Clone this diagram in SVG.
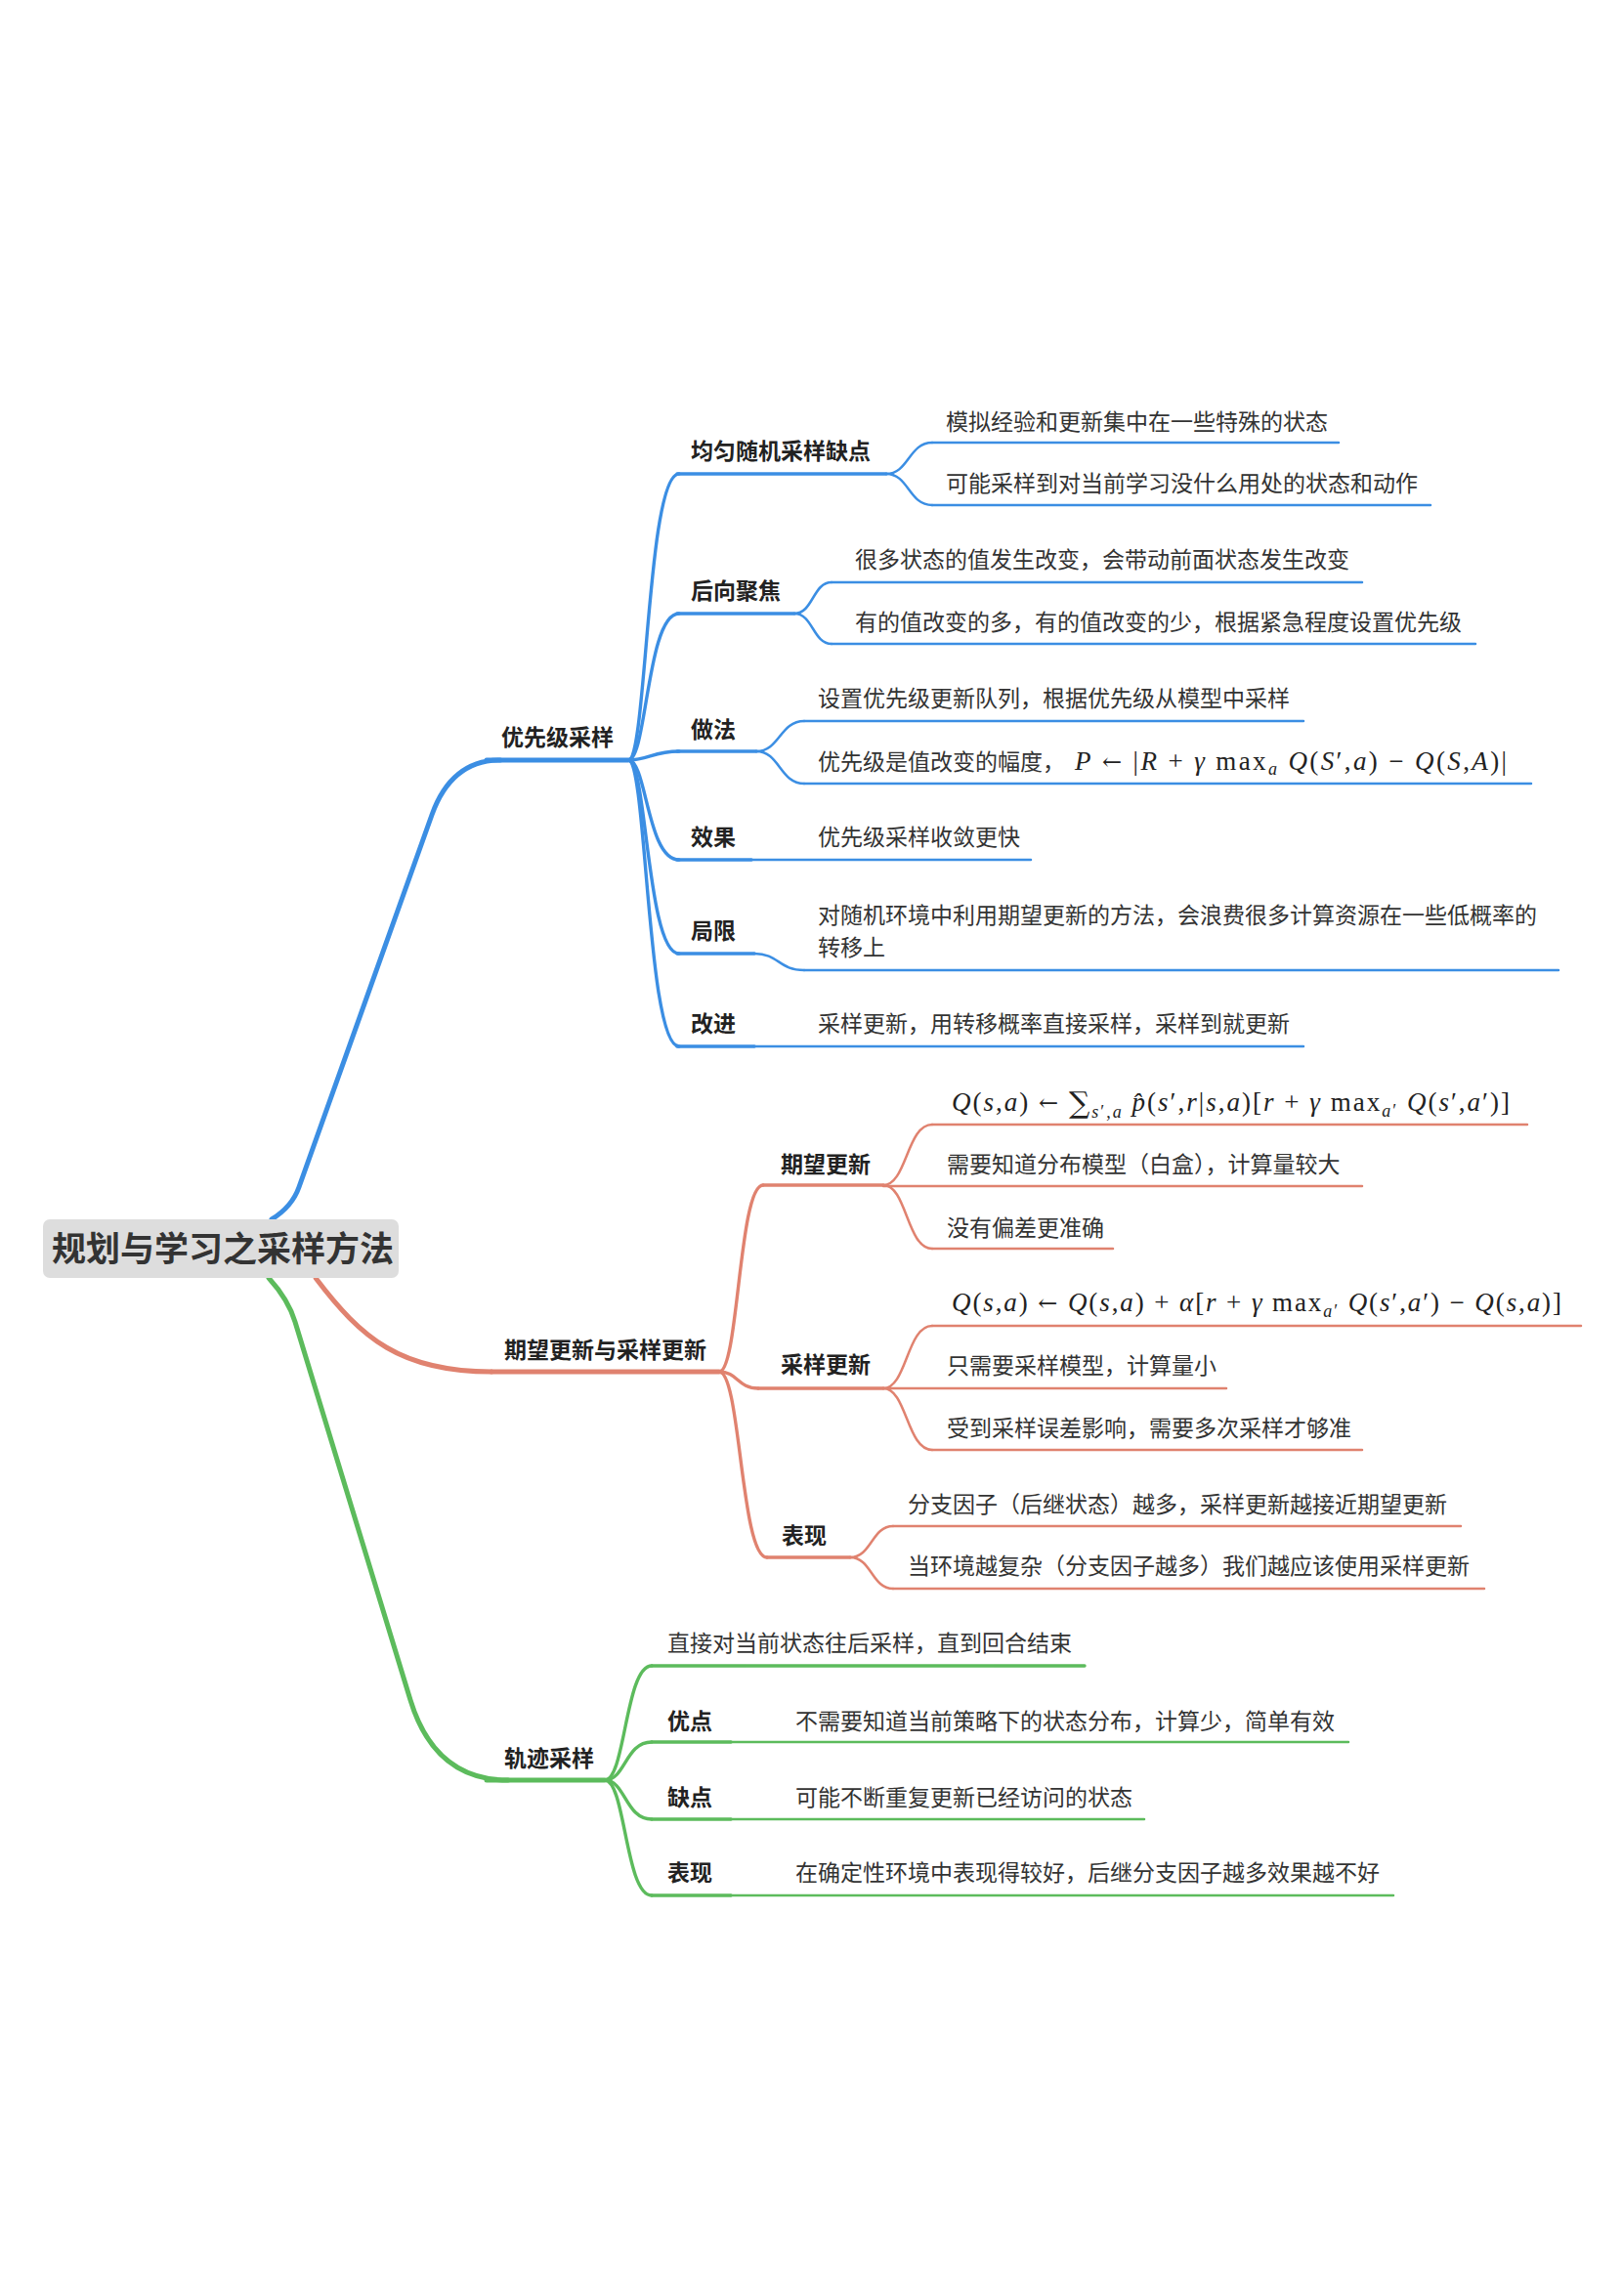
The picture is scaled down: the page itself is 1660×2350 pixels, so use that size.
<svg xmlns="http://www.w3.org/2000/svg" width="1660" height="2350" viewBox="0 0 1660 2350">
<style>
path, line { fill: none; stroke-linecap: round; }
.b { stroke: #3b8ee3; }
.r { stroke: #e0826f; }
.g { stroke: #5cbb5c; }
.w1 { stroke-width: 5; }
.w2 { stroke-width: 3.4; }
.w3 { stroke-width: 2.5; }
.root { font-family: "Noto Sans CJK SC", sans-serif; font-size: 35px; font-weight: bold; fill: #333; }
.lbl { font-family: "Noto Sans CJK SC", sans-serif; font-size: 23px; font-weight: bold; fill: #222; }
.leaf { font-family: "Noto Sans CJK SC", sans-serif; font-size: 23px; fill: #333; }
.m { font-family: "Liberation Serif", "DejaVu Serif", serif; font-size: 27px; fill: #222; }
.i { font-style: italic; }
.s { font-size: 18px; }
.op { font-family: "DejaVu Serif", serif; font-size: 24px; }
.sum { font-family: "DejaVu Serif", serif; font-size: 30px; }
</style>
<rect width="1660" height="2350" fill="#ffffff"/>
<g id="connectors">
  <!-- main branches -->
  <path class="b w1" d="M 278 1248 Q 299 1235 306 1215 L 442 834 Q 462 778 512 778"/>
  <path class="r w1" d="M 323 1308 C 370 1370 410 1404 503 1404"/>
  <path class="g w1" d="M 275 1308 Q 295 1330 302 1353 L 420 1740 Q 445 1822 520 1822"/>
  <!-- blue subs -->
  <path class="b w2" d="M 643 778 C 662 778 662 485 695 485"/>
  <path class="b w2" d="M 643 778 C 662 778 662 628 695 628"/>
  <path class="b w2" d="M 643 778 C 664 778 668 769 695 769"/>
  <path class="b w2" d="M 643 778 C 662 778 662 880 695 880"/>
  <path class="b w2" d="M 643 778 C 662 778 662 976 695 976"/>
  <path class="b w2" d="M 643 778 C 662 778 662 1071 695 1071"/>
  <!-- blue leaves -->
  <path class="b w3" d="M 907 485 C 930 485 930 453 954 453"/>
  <path class="b w3" d="M 907 485 C 930 485 930 517 954 517"/>
  <path class="b w3" d="M 813 628 C 832 628 832 596 851 596"/>
  <path class="b w3" d="M 813 628 C 832 628 832 659 851 659"/>
  <path class="b w3" d="M 774 769 C 798 769 798 738 823 738"/>
  <path class="b w3" d="M 774 769 C 798 769 798 802 823 802"/>
  <path class="b w3" d="M 772 976 C 797 976 797 993 823 993"/>
  <!-- red subs -->
  <path class="r w2" d="M 736 1404 C 756 1404 756 1213 781 1213"/>
  <path class="r w2" d="M 736 1404 C 755 1404 755 1421 776 1421"/>
  <path class="r w2" d="M 736 1404 C 758 1404 758 1594 785 1594"/>
  <!-- red leaves -->
  <path class="r w3" d="M 904 1213 C 928 1213 928 1151 954 1151"/>
  <path class="r w3" d="M 904 1213 C 928 1213 928 1278 954 1278"/>
  <path class="r w3" d="M 904 1421 C 928 1421 928 1357 954 1357"/>
  <path class="r w3" d="M 904 1421 C 928 1421 928 1484 954 1484"/>
  <path class="r w3" d="M 870 1594 C 892 1594 892 1562 914 1562"/>
  <path class="r w3" d="M 870 1594 C 892 1594 892 1626 914 1626"/>
  <!-- green subs -->
  <path class="g w2" d="M 619 1822 C 640 1822 640 1705 667 1705"/>
  <path class="g w2" d="M 619 1822 C 640 1822 640 1783 667 1783"/>
  <path class="g w2" d="M 619 1822 C 640 1822 640 1862 667 1862"/>
  <path class="g w2" d="M 619 1822 C 640 1822 640 1940 667 1940"/>
</g>

<g id="root">
  <rect x="44" y="1248" width="364" height="60" rx="7" fill="#dddddd"/>
  <text class="root" x="53" y="1291">规划与学习之采样方法</text>
</g>

<!-- Blue branch -->
<g id="n-youxianji">
  <line class="b w1" x1="498" y1="778" x2="643" y2="778"/>
  <text class="lbl" x="513" y="763">优先级采样</text>
</g>
<g id="n-junyun">
  <line class="b w2" x1="693" y1="485" x2="907" y2="485"/>
  <text class="lbl" x="707" y="470">均匀随机采样缺点</text>
</g>
<g id="n-junyun-1">
  <line class="b w3" x1="954" y1="453" x2="1370" y2="453"/>
  <text class="leaf" x="968" y="440">模拟经验和更新集中在一些特殊的状态</text>
</g>
<g id="n-junyun-2">
  <line class="b w3" x1="954" y1="517" x2="1464" y2="517"/>
  <text class="leaf" x="968" y="503">可能采样到对当前学习没什么用处的状态和动作</text>
</g>
<g id="n-houxiang">
  <line class="b w2" x1="693" y1="628" x2="813" y2="628"/>
  <text class="lbl" x="707" y="613">后向聚焦</text>
</g>
<g id="n-houxiang-1">
  <line class="b w3" x1="851" y1="596" x2="1394" y2="596"/>
  <text class="leaf" x="875" y="581">很多状态的值发生改变，会带动前面状态发生改变</text>
</g>
<g id="n-houxiang-2">
  <line class="b w3" x1="851" y1="659" x2="1510" y2="659"/>
  <text class="leaf" x="875" y="645">有的值改变的多，有的值改变的少，根据紧急程度设置优先级</text>
</g>
<g id="n-zuofa">
  <line class="b w2" x1="693" y1="769" x2="774" y2="769"/>
  <text class="lbl" x="707" y="755">做法</text>
</g>
<g id="n-zuofa-1">
  <line class="b w3" x1="823" y1="738" x2="1334" y2="738"/>
  <text class="leaf" x="837" y="723">设置优先级更新队列，根据优先级从模型中采样</text>
</g>
<g id="n-zuofa-2">
  <line class="b w3" x1="823" y1="802" x2="1567" y2="802"/>
  <text class="leaf" x="837" y="788">优先级是值改变的幅度，</text>
  <text class="m" x="1100" y="788" textLength="442"><tspan class="i">P</tspan> <tspan class="op">←</tspan> |<tspan class="i">R</tspan> + <tspan class="i">γ</tspan> max<tspan class="s i" dy="5">a</tspan><tspan dy="-5"> </tspan><tspan class="i">Q</tspan>(<tspan class="i">S</tspan>′,<tspan class="i">a</tspan>) − <tspan class="i">Q</tspan>(<tspan class="i">S</tspan>,<tspan class="i">A</tspan>)|</text>
</g>
<g id="n-xiaoguo">
  <line class="b w2" x1="693" y1="880" x2="769" y2="880"/>
  <text class="lbl" x="707" y="865">效果</text>
</g>
<g id="n-xiaoguo-1">
  <line class="b w3" x1="769" y1="880" x2="1055" y2="880"/>
  <text class="leaf" x="837" y="865">优先级采样收敛更快</text>
</g>
<g id="n-juxian">
  <line class="b w2" x1="693" y1="976" x2="772" y2="976"/>
  <text class="lbl" x="707" y="961">局限</text>
</g>
<g id="n-juxian-1">
  <line class="b w3" x1="823" y1="993" x2="1595" y2="993"/>
  <text class="leaf" x="837" y="945">对随机环境中利用期望更新的方法，会浪费很多计算资源在一些低概率的</text>
  <text class="leaf" x="837" y="978">转移上</text>
</g>
<g id="n-gaijin">
  <line class="b w2" x1="693" y1="1071" x2="772" y2="1071"/>
  <text class="lbl" x="707" y="1056">改进</text>
</g>
<g id="n-gaijin-1">
  <line class="b w3" x1="772" y1="1071" x2="1334" y2="1071"/>
  <text class="leaf" x="837" y="1056">采样更新，用转移概率直接采样，采样到就更新</text>
</g>

<!-- Red branch -->
<g id="n-qiwang-caiyang">
  <line class="r w1" x1="503" y1="1404" x2="736" y2="1404"/>
  <text class="lbl" x="516" y="1390">期望更新与采样更新</text>
</g>
<g id="n-qiwang">
  <line class="r w2" x1="781" y1="1213" x2="904" y2="1213"/>
  <text class="lbl" x="799" y="1200">期望更新</text>
</g>
<g id="n-qiwang-1">
  <line class="r w3" x1="954" y1="1151" x2="1563" y2="1151"/>
  <text class="m" x="974" y="1137" textLength="571"><tspan class="i">Q</tspan>(<tspan class="i">s</tspan>,<tspan class="i">a</tspan>) <tspan class="op">←</tspan> <tspan class="sum" dy="2">∑</tspan><tspan class="s i" dy="5">s</tspan><tspan class="s">′,</tspan><tspan class="s i">a</tspan><tspan class="i" dy="-7"> p̂</tspan>(<tspan class="i">s</tspan>′,<tspan class="i">r</tspan>|<tspan class="i">s</tspan>,<tspan class="i">a</tspan>)[<tspan class="i">r</tspan> + <tspan class="i">γ</tspan> max<tspan class="s i" dy="6">a</tspan><tspan class="s">′</tspan><tspan dy="-6"> </tspan><tspan class="i">Q</tspan>(<tspan class="i">s</tspan>′,<tspan class="i">a</tspan>′)]</text>
</g>
<g id="n-qiwang-2">
  <line class="r w3" x1="904" y1="1214" x2="1394" y2="1214"/>
  <text class="leaf" x="969" y="1200">需要知道分布模型（白盒），计算量较大</text>
</g>
<g id="n-qiwang-3">
  <line class="r w3" x1="954" y1="1278" x2="1139" y2="1278"/>
  <text class="leaf" x="969" y="1265">没有偏差更准确</text>
</g>
<g id="n-caiyang">
  <line class="r w2" x1="776" y1="1421" x2="904" y2="1421"/>
  <text class="lbl" x="799" y="1405">采样更新</text>
</g>
<g id="n-caiyang-1">
  <line class="r w3" x1="954" y1="1357" x2="1618" y2="1357"/>
  <text class="m" x="974" y="1342" textLength="624"><tspan class="i">Q</tspan>(<tspan class="i">s</tspan>,<tspan class="i">a</tspan>) <tspan class="op">←</tspan> <tspan class="i">Q</tspan>(<tspan class="i">s</tspan>,<tspan class="i">a</tspan>) + <tspan class="i">α</tspan>[<tspan class="i">r</tspan> + <tspan class="i">γ</tspan> max<tspan class="s i" dy="6">a</tspan><tspan class="s">′</tspan><tspan dy="-6"> </tspan><tspan class="i">Q</tspan>(<tspan class="i">s</tspan>′,<tspan class="i">a</tspan>′) − <tspan class="i">Q</tspan>(<tspan class="i">s</tspan>,<tspan class="i">a</tspan>)]</text>
</g>
<g id="n-caiyang-2">
  <line class="r w3" x1="904" y1="1421" x2="1255" y2="1421"/>
  <text class="leaf" x="969" y="1406">只需要采样模型，计算量小</text>
</g>
<g id="n-caiyang-3">
  <line class="r w3" x1="954" y1="1484" x2="1394" y2="1484"/>
  <text class="leaf" x="969" y="1470">受到采样误差影响，需要多次采样才够准</text>
</g>
<g id="n-biaoxian-r">
  <line class="r w2" x1="785" y1="1594" x2="870" y2="1594"/>
  <text class="lbl" x="800" y="1580">表现</text>
</g>
<g id="n-biaoxian-r-1">
  <line class="r w3" x1="914" y1="1562" x2="1495" y2="1562"/>
  <text class="leaf" x="929" y="1548">分支因子（后继状态）越多，采样更新越接近期望更新</text>
</g>
<g id="n-biaoxian-r-2">
  <line class="r w3" x1="914" y1="1626" x2="1519" y2="1626"/>
  <text class="leaf" x="929" y="1611">当环境越复杂（分支因子越多）我们越应该使用采样更新</text>
</g>

<!-- Green branch -->
<g id="n-guiji">
  <line class="g w1" x1="498" y1="1822" x2="619" y2="1822"/>
  <text class="lbl" x="516" y="1808">轨迹采样</text>
</g>
<g id="n-guiji-1">
  <line class="g w2" x1="667" y1="1705" x2="1110" y2="1705"/>
  <text class="leaf" x="683" y="1690">直接对当前状态往后采样，直到回合结束</text>
</g>
<g id="n-youdian">
  <line class="g w2" x1="667" y1="1783" x2="748" y2="1783"/>
  <text class="lbl" x="683" y="1770">优点</text>
</g>
<g id="n-youdian-1">
  <line class="g w3" x1="748" y1="1783" x2="1380" y2="1783"/>
  <text class="leaf" x="814" y="1770">不需要知道当前策略下的状态分布，计算少，简单有效</text>
</g>
<g id="n-quedian">
  <line class="g w2" x1="667" y1="1862" x2="748" y2="1862"/>
  <text class="lbl" x="683" y="1848">缺点</text>
</g>
<g id="n-quedian-1">
  <line class="g w3" x1="748" y1="1862" x2="1171" y2="1862"/>
  <text class="leaf" x="814" y="1848">可能不断重复更新已经访问的状态</text>
</g>
<g id="n-biaoxian-g">
  <line class="g w2" x1="667" y1="1940" x2="748" y2="1940"/>
  <text class="lbl" x="683" y="1925">表现</text>
</g>
<g id="n-biaoxian-g-1">
  <line class="g w3" x1="748" y1="1940" x2="1426" y2="1940"/>
  <text class="leaf" x="814" y="1925">在确定性环境中表现得较好，后继分支因子越多效果越不好</text>
</g>
</svg>
